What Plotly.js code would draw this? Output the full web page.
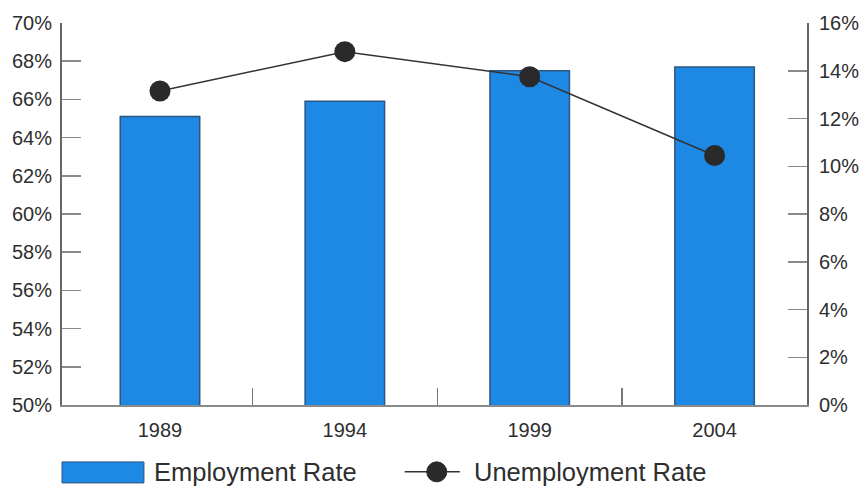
<!DOCTYPE html>
<html>
<head>
<meta charset="utf-8">
<script src="https://cdn.plot.ly/plotly-3.0.1.min.js"></script>
<style>html,body{margin:0;padding:0;background:#fff;}#chart{width:861px;height:486px;}</style>
</head>
<body>
<div id="chart"></div>
<script>
// Data
const years = ["1989", "1994", "1999", "2004"];
const employmentRate = [65.1, 65.9, 67.5, 67.7];      // left axis, %
const unemploymentRate = [13.15, 14.8, 13.75, 10.45]; // right axis, %
const leftTicks = [50, 52, 54, 56, 58, 60, 62, 64, 66, 68, 70];
const rightTicks = [0, 2, 4, 6, 8, 10, 12, 14, 16];
const seriesNames = ["Employment Rate", "Unemployment Rate"];

const FONT = '"Liberation Sans", Arial, Helvetica, sans-serif';
const TXT = '#2e2e2e';
const BLUE = '#1E88E5';

const boundaries = years.slice(1).map((_, i) => i + 0.5);

const traces = [
  {
    type: 'bar', name: seriesNames[0], x: years, y: employmentRate,
    marker: {color: BLUE, line: {color: '#2c5680', width: 1.5}},
    width: 0.43, xaxis: 'x', yaxis: 'y', showlegend: false, hoverinfo: 'x+y'
  },
  {
    type: 'scatter', mode: 'lines+markers', name: seriesNames[1], x: years, y: unemploymentRate,
    line: {color: '#333333', width: 1.5},
    marker: {color: '#2a2a2a', size: 21},
    xaxis: 'x', yaxis: 'y2', showlegend: false
  },
  {
    // invisible helper so the boundary-tick axis is drawn
    type: 'scatter', mode: 'markers', x: boundaries, y: boundaries.map(() => null),
    xaxis: 'x2', yaxis: 'y', showlegend: false, hoverinfo: 'skip', marker: {opacity: 0}
  }
];

const layout = {
  width: 861, height: 486,
  margin: {l: 62, r: 54, t: 23, b: 81},
  paper_bgcolor: '#ffffff', plot_bgcolor: '#ffffff',
  font: {family: FONT, color: TXT, size: 20},
  showlegend: false,
  bargap: 0,
  xaxis: {
    type: 'category', range: [-0.53, 3.5],
    showgrid: false, zeroline: false,
    showline: true, linecolor: '#8a8a8a', linewidth: 2,
    ticks: '', tickfont: {size: 20, color: TXT},
    ticklabelstandoff: 6
  },
  xaxis2: {
    overlaying: 'x', type: 'linear', range: [-0.53, 3.5],
    tickvals: boundaries, ticktext: boundaries.map(() => ''), showticklabels: false,
    ticks: 'inside', ticklen: 17, tickcolor: '#777', tickwidth: 1.5,
    showgrid: false, zeroline: false, showline: false, anchor: 'y', side: 'bottom'
  },
  yaxis: {
    range: [50, 70], tickvals: leftTicks, ticktext: leftTicks.map(v => v + '%'),
    ticks: 'inside', ticklen: 19, tickcolor: '#8a8a8a', tickwidth: 1.5,
    showgrid: false, zeroline: false,
    showline: true, linecolor: '#666', linewidth: 2,
    tickfont: {size: 20, color: TXT}, ticklabelstandoff: 4
  },
  yaxis2: {
    range: [0, 16], tickvals: rightTicks, ticktext: rightTicks.map(v => v + '%'),
    overlaying: 'y', side: 'right', anchor: 'x',
    ticks: 'inside', ticklen: 19, tickcolor: '#8a8a8a', tickwidth: 1.5,
    showgrid: false, zeroline: false,
    showline: true, linecolor: '#666', linewidth: 2,
    tickfont: {size: 20, color: TXT}, ticklabelstandoff: 6
  },
  shapes: [
    {type: 'rect', xref: 'paper', yref: 'paper', x0: 0, x1: 0.110, y0: -0.204, y1: -0.149,
     fillcolor: BLUE, line: {color: '#2c5680', width: 1}},
    {type: 'line', xref: 'paper', yref: 'paper', x0: 0.460, x1: 0.534, y0: -0.175, y1: -0.175,
     line: {color: '#333', width: 1.5}},
    {type: 'circle', xref: 'paper', yref: 'paper', xsizemode: 'pixel', ysizemode: 'pixel',
     xanchor: 0.503, yanchor: -0.175, x0: -10, x1: 10, y0: -10, y1: 10,
     fillcolor: '#2a2a2a', line: {color: '#2a2a2a', width: 1}}
  ],
  annotations: [
    {xref: 'paper', yref: 'paper', x: 0.121, y: -0.175, xanchor: 'left', yanchor: 'middle',
     text: seriesNames[0], showarrow: false, font: {size: 25.5, color: TXT, family: FONT}},
    {xref: 'paper', yref: 'paper', x: 0.551, y: -0.175, xanchor: 'left', yanchor: 'middle',
     text: seriesNames[1], showarrow: false, font: {size: 25.5, color: TXT, family: FONT}}
  ]
};

Plotly.newPlot('chart', traces, layout, {staticPlot: true, displayModeBar: false});
</script>
</body>
</html>
